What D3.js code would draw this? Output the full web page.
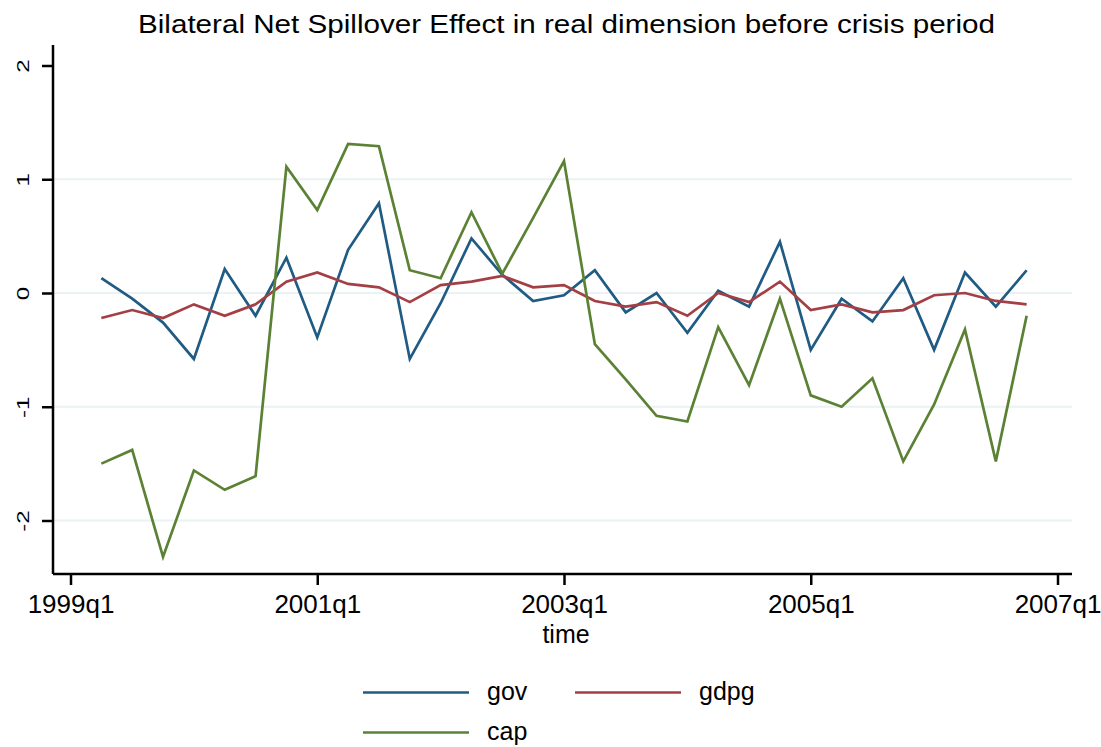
<!DOCTYPE html>
<html>
<head>
<meta charset="utf-8">
<script src="https://cdn.jsdelivr.net/npm/d3@7"></script>
<style>
  body { margin: 0; background: #fff; }
  svg { display: block; font-family: "Liberation Sans", Arial, Helvetica, sans-serif; }
</style>
</head>
<body>
<svg id="chart" width="1101" height="747"></svg>
<script>
// Quarters 1999q2 .. 2006q4 (index = quarters since 1999q1)
const quarters = d3.range(1, 32);
const gov = [0.13, -0.05, -0.26, -0.58, 0.21, -0.20, 0.31, -0.39, 0.38, 0.79,
             -0.58, -0.09, 0.48, 0.16, -0.07, -0.02, 0.20, -0.17, 0.00, -0.35,
             0.02, -0.12, 0.45, -0.50, -0.05, -0.25, 0.13, -0.50, 0.18, -0.12, 0.20];
const gdpg = [-0.22, -0.15, -0.22, -0.10, -0.20, -0.10, 0.10, 0.18, 0.08, 0.05,
              -0.08, 0.07, 0.10, 0.15, 0.05, 0.07, -0.07, -0.12, -0.08, -0.20,
              0.00, -0.08, 0.10, -0.15, -0.10, -0.17, -0.15, -0.02, 0.00, -0.07, -0.10];
const cap = [-1.50, -1.38, -2.32, -1.56, -1.73, -1.61, 1.11, 0.73, 1.31, 1.29,
             0.20, 0.13, 0.71, 0.17, 0.66, 1.16, -0.45, -0.76, -1.08, -1.13,
             -0.30, -0.81, -0.05, -0.90, -1.00, -0.75, -1.48, -0.98, -0.32, -1.48, -0.20];
const yTicks = [-2, -1, 0, 1, 2];
const yTickLabels = ["-2", "-1", "0", "1", "2"];
const xTicks = [0, 8, 16, 24, 32];
const xTickLabels = ["1999q1", "2001q1", "2003q1", "2005q1", "2007q1"];
const seriesNames = ["gov", "gdpg", "cap"];
const seriesColors = ["#1f5b83", "#a33f45", "#5b8234"];
const seriesData = [gov, gdpg, cap];

const svg = d3.select("#chart");
const plotLeft = 53, plotRight = 1072, plotTop = 45, plotBottom = 574;

const x = d3.scaleLinear().domain([0, 32]).range([70.5, 1057.5]);
const y = d3.scaleLinear().domain([-2, 2]).range([520.5, 65.5]);

// gridlines
svg.append("g").selectAll("line")
  .data(yTicks.filter(v => v !== 2))
  .join("line")
  .attr("x1", plotLeft).attr("x2", plotRight)
  .attr("y1", d => y(d)).attr("y2", d => y(d))
  .attr("stroke", "#eaf2f3").attr("stroke-width", 2.2);

// series
const line = d3.line().x((d, i) => x(quarters[i])).y(d => y(d));
seriesData.forEach((s, k) => {
  svg.append("path").datum(s)
    .attr("d", line)
    .attr("fill", "none")
    .attr("stroke", seriesColors[k])
    .attr("stroke-width", 2.7)
    .attr("stroke-linejoin", "miter");
});

// y axis
const yAxis = d3.axisLeft(y).tickValues(yTicks).tickSize(11)
  .tickFormat((d, i) => yTickLabels[i]);
const gy = svg.append("g").attr("transform", `translate(${plotLeft},0)`).call(yAxis);
gy.select(".domain").attr("d", `M0,${plotTop}V${plotBottom}`).attr("stroke-width", 2.5);
gy.selectAll(".tick line").attr("stroke-width", 2.5);
gy.selectAll(".tick text")
  .attr("font-size", 24)
  .attr("fill", "#000")
  .attr("text-anchor", "middle")
  .attr("x", 0).attr("y", 0).attr("dy", 0)
  .attr("transform", "translate(-24,0) scale(0.68,1) rotate(-90)");

// x axis
const xAxis = d3.axisBottom(x).tickValues(xTicks).tickSize(11)
  .tickFormat((d, i) => xTickLabels[i]);
const gx = svg.append("g").attr("transform", `translate(0,${plotBottom})`).call(xAxis);
gx.select(".domain").attr("d", `M${plotLeft},0H${plotRight}`).attr("stroke-width", 2.5);
gx.selectAll(".tick line").attr("stroke-width", 2.5);
gx.selectAll(".tick text").attr("font-size", 26).attr("fill", "#000")
  .attr("y", 39).attr("dy", 0);

// axis title
svg.append("text").attr("x", 566).attr("y", 643).attr("text-anchor", "middle")
  .attr("font-size", 25).text("time");

// title
svg.append("text").attr("x", 566.5).attr("y", 33).attr("text-anchor", "middle")
  .attr("font-size", 25)
  .attr("textLength", 857).attr("lengthAdjust", "spacingAndGlyphs")
  .text("Bilateral Net Spillover Effect in real dimension before crisis period");

// legend
const legPos = [[363, 692.5], [575, 692.5], [363, 732.5]];
seriesNames.forEach((n, k) => {
  const [lx, ly] = legPos[k];
  svg.append("line").attr("x1", lx).attr("x2", lx + 106).attr("y1", ly).attr("y2", ly)
    .attr("stroke", seriesColors[k]).attr("stroke-width", 2.7);
  svg.append("text").attr("x", lx + 124).attr("y", ly + 7).attr("font-size", 25).text(n);
});
</script>
</body>
</html>
